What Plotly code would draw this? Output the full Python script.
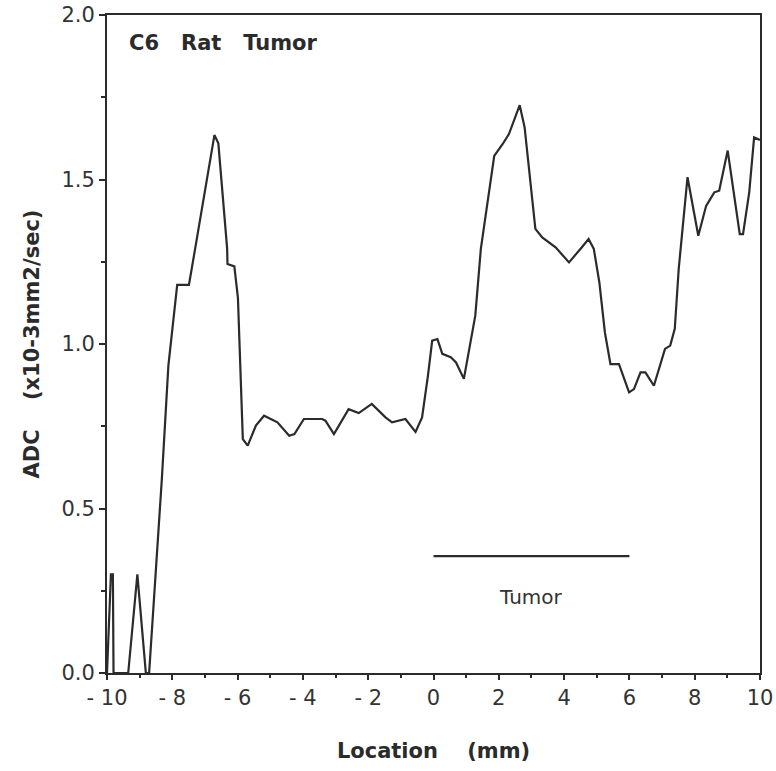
import plotly.graph_objects as go

# ADC profile across C6 rat tumor
location_mm = [-10.0, -9.88, -9.82, -9.80, -9.35, -9.07, -8.81, -8.71, -8.32, -8.16, -8.12, -7.85, -7.49, -7.30,
               -6.71, -6.59, -6.32, -6.31, -6.10, -5.99, -5.94, -5.84, -5.69, -5.44, -5.19, -4.78, -4.42, -4.26,
               -3.97, -3.41, -3.31, -3.05, -2.60, -2.29, -1.89, -1.47, -1.27, -0.86, -0.55, -0.35, -0.17, -0.04,
               0.12, 0.27, 0.53, 0.69, 0.93, 1.14, 1.28, 1.45, 1.86, 2.12, 2.31, 2.64, 2.79, 3.12, 3.33, 3.74,
               4.05, 4.15, 4.50, 4.75, 4.91, 5.08, 5.25, 5.42, 5.68, 5.99, 6.14, 6.34, 6.49, 6.75, 7.09, 7.25,
               7.39, 7.51, 7.78, 8.11, 8.35, 8.60, 8.75, 9.01, 9.38, 9.48, 9.67, 9.82, 10.0]
adc = [0.0, 0.30, 0.30, 0.0, 0.0, 0.30, 0.0, 0.0, 0.59, 0.883, 0.934, 1.18, 1.18, 1.29,
       1.635, 1.61, 1.29, 1.243, 1.236, 1.14, 0.985, 0.711, 0.691, 0.752, 0.782, 0.762, 0.721, 0.726,
       0.772, 0.772, 0.767, 0.726, 0.802, 0.79, 0.818, 0.777, 0.762, 0.772, 0.733, 0.777, 0.904, 1.01,
       1.015, 0.97, 0.96, 0.944, 0.894, 1.005, 1.086, 1.289, 1.572, 1.608, 1.638, 1.726, 1.659, 1.35, 1.324, 1.294,
       1.258, 1.248, 1.289, 1.319, 1.289, 1.187, 1.035, 0.939, 0.939, 0.853, 0.863, 0.914, 0.914, 0.873, 0.985, 0.995,
       1.046, 1.228, 1.507, 1.329, 1.42, 1.461, 1.466, 1.588, 1.334, 1.334, 1.461, 1.628, 1.62]

tumor_x = [0, 6]
tumor_y = [0.355, 0.355]

x_tickvals = [-10, -8, -6, -4, -2, 0, 2, 4, 6, 8, 10]
x_ticktext = ["- 10", "- 8", "- 6", "- 4", "- 2", "0", "2", "4", "6", "8", "10"]
y_tickvals = [0.0, 0.5, 1.0, 1.5, 2.0]
y_ticktext = ["0.0", "0.5", "1.0", "1.5", "2.0"]

INK = "#2b2b2b"
TICKFONT = dict(family="DejaVu Sans", size=21, color="#333333")
TITLEFONT = dict(family="DejaVu Sans", size=21, color="#2b2b2b", weight="bold")
NB = "\u00a0"

fig = go.Figure()
fig.add_trace(go.Scatter(x=location_mm, y=adc, mode="lines",
                         line=dict(color=INK, width=2.2), showlegend=False, hoverinfo="skip"))
fig.add_trace(go.Scatter(x=tumor_x, y=tumor_y, mode="lines",
                         line=dict(color=INK, width=2.2), showlegend=False, hoverinfo="skip"))

fig.add_annotation(x=3, y=0.23, text="Tumor", showarrow=False, xref="x", yref="y",
                   font=dict(family="DejaVu Sans", size=20, color="#333333"))
fig.add_annotation(x=0.03, y=0.957, xref="paper", yref="paper", xanchor="left", yanchor="middle",
                   text=f"C6{NB*3}Rat{NB*3}Tumor", showarrow=False,
                   font=dict(family="DejaVu Sans", size=21, color="#2b2b2b", weight="bold"))

fig.update_xaxes(range=[-10, 10], tickvals=x_tickvals, ticktext=x_ticktext, tickfont=TICKFONT,
                 ticks="outside", ticklen=5, tickwidth=2, tickcolor=INK, automargin=False,
                 minor=dict(tickvals=[-9, -7, -5, -3, -1, 1, 3, 5, 7, 9], ticks="outside", ticklen=3,
                            tickwidth=2, tickcolor=INK),
                 showline=True, linecolor=INK, linewidth=2, mirror=True, showgrid=False, zeroline=False,
                 title=dict(text=f"Location{NB*4}(mm)", font=TITLEFONT, standoff=34))
fig.update_yaxes(range=[0, 2.0], tickvals=y_tickvals, ticktext=y_ticktext, tickfont=TICKFONT,
                 ticks="outside", ticklen=6, tickwidth=2, tickcolor=INK, automargin=False,
                 minor=dict(tickvals=[0.25, 0.75, 1.25, 1.75], ticks="outside", ticklen=4,
                            tickwidth=2, tickcolor=INK),
                 showline=True, linecolor=INK, linewidth=2, mirror=True, showgrid=False, zeroline=False,
                 title=dict(text=f"ADC{NB*4}(x10-3mm2/sec)", font=TITLEFONT, standoff=16))

fig.update_layout(width=776, height=771, margin=dict(l=107, r=16, t=15, b=98),
                  paper_bgcolor="white", plot_bgcolor="white")
fig.write_html("out.html")
